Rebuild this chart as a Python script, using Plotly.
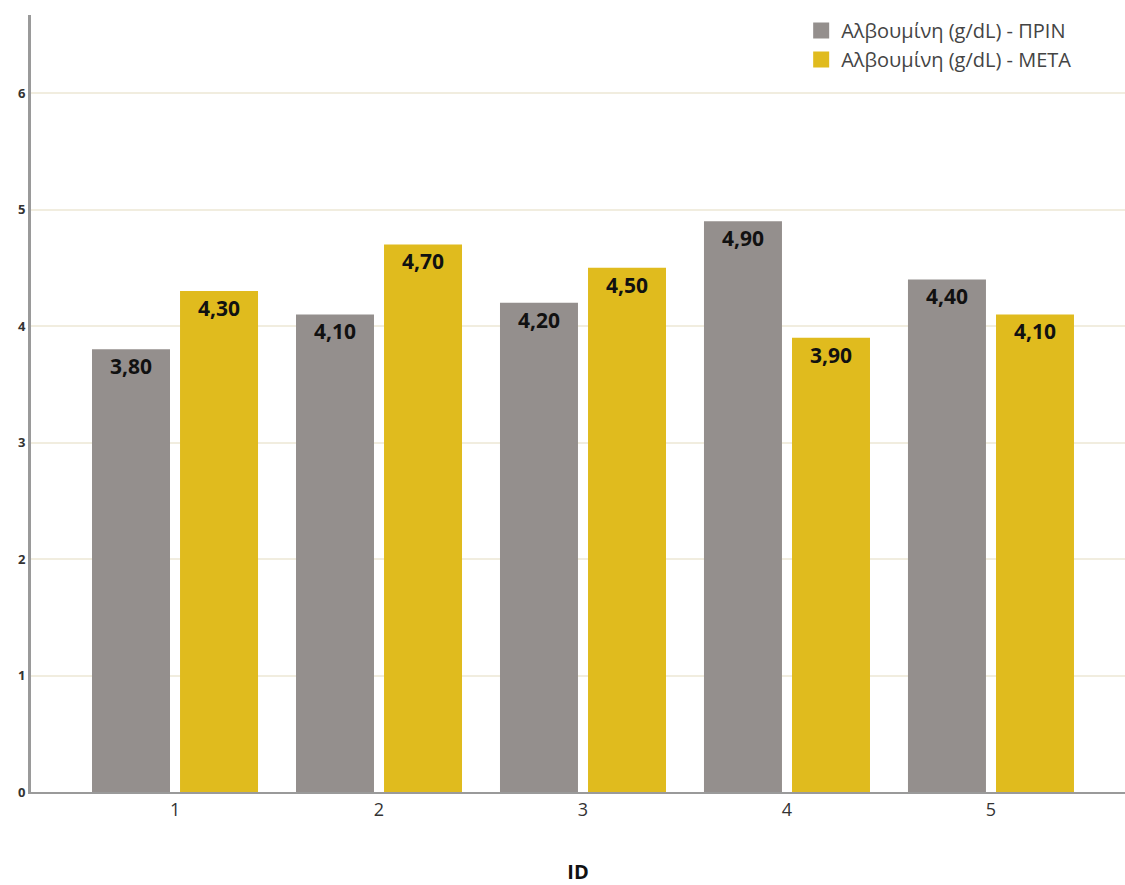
import plotly.graph_objects as go

ids = ["1", "2", "3", "4", "5"]
before = [3.80, 4.10, 4.20, 4.90, 4.40]
after = [4.30, 4.70, 4.50, 3.90, 4.10]
name_before = "Αλβουμίνη (g/dL) - ΠΡΙΝ"
name_after = "Αλβουμίνη (g/dL) - ΜΕΤΑ"
y_ticks = [0, 1, 2, 3, 4, 5, 6]

FONT = "Open Sans"
GREY = "#948f8d"
GOLD = "#e0bb1e"

fig = go.Figure()
for vals, name, col in [(before, name_before, GREY), (after, name_after, GOLD)]:
    fig.add_trace(go.Bar(
        x=ids, y=vals, name=name, showlegend=False,
        marker=dict(color=col, line=dict(width=0)),
        texttemplate="%{y:.2f}", textposition="inside", insidetextanchor="end",
        textfont=dict(family=FONT, size=21, color="#111111", weight="bold"),
        textangle=0,
    ))
# legend entries with larger square swatches
for name, col in [(name_before, GREY), (name_after, GOLD)]:
    fig.add_trace(go.Scatter(
        x=[None], y=[None], mode="markers", name=name,
        marker=dict(symbol="square", size=22, color=col),
    ))

fig.update_layout(
    width=1125, height=885,
    margin=dict(l=31, r=0, t=15, b=93),
    paper_bgcolor="white", plot_bgcolor="white",
    barmode="group", bargap=0.137, bargroupgap=0.114,
    separators=",.",
    font=dict(family=FONT, color="#333333"),
    showlegend=True,
    legend=dict(
        x=0.704, y=1.005, xanchor="left", yanchor="top",
        font=dict(family=FONT, size=20, color="#444444"),
        bgcolor="rgba(0,0,0,0)", tracegroupgap=0, itemwidth=30,
    ),
    uniformtext=dict(mode=False),
)
fig.update_xaxes(
    type="category", range=[-0.706, 4.657],
    showline=True, linecolor="#9a9a9a", linewidth=2,
    showgrid=False, ticks="", tickfont=dict(family=FONT, size=18, color="#333333"),
    title=dict(text="<b>ID</b>", font=dict(family=FONT, size=20, color="#111111"), standoff=46),
)
fig.update_yaxes(
    range=[0, 6.67], tickvals=y_ticks,
    showline=True, linecolor="#9a9a9a", linewidth=3,
    showgrid=True, gridcolor="#f1eddf", gridwidth=2,
    zeroline=False, ticks="",
    tickfont=dict(family=FONT, size=13, color="#333333", weight="bold"),
)

fig.write_html("out.html")
